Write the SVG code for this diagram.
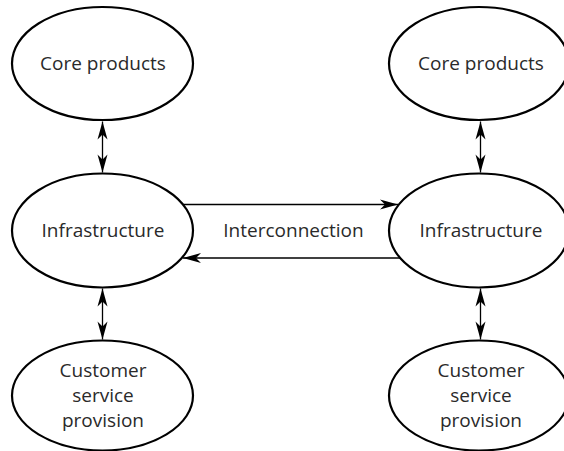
<svg xmlns="http://www.w3.org/2000/svg" width="564" height="451" viewBox="0 0 564 451">
  <defs>
    <style>
      .node ellipse { fill: #ffffff; stroke: #000000; stroke-width: 2.2; }
      .label { font-family: "Open Sans", "Liberation Sans", sans-serif; font-size: 19px; fill: #2a2a2a; text-anchor: middle; }
      .conn line { stroke: #000000; stroke-width: 1.3; fill: none; }
    </style>
    <marker id="arrow" markerUnits="userSpaceOnUse" markerWidth="20" markerHeight="12" viewBox="-19 -6 20 12" refX="0" refY="0" orient="auto-start-reverse" overflow="visible">
      <path d="M0,0 L-18,-5 L-13,0 L-18,5 Z" fill="#000000"/>
    </marker>
  </defs>
  <rect width="564" height="451" fill="#ffffff"/>

  <g id="connectors" class="conn">
    <line x1="102.5" y1="121.5" x2="102.5" y2="172.5" marker-start="url(#arrow)" marker-end="url(#arrow)"/>
    <line x1="102.5" y1="288.5" x2="102.5" y2="339.5" marker-start="url(#arrow)" marker-end="url(#arrow)"/>
    <line x1="480.5" y1="121.5" x2="480.5" y2="172.5" marker-start="url(#arrow)" marker-end="url(#arrow)"/>
    <line x1="480.5" y1="288.5" x2="480.5" y2="339.5" marker-start="url(#arrow)" marker-end="url(#arrow)"/>
    <line x1="183" y1="204.5" x2="398" y2="204.5" marker-end="url(#arrow)"/>
    <line x1="400" y1="258" x2="183" y2="258" marker-end="url(#arrow)"/>
  </g>
  <text class="label" x="293.5" y="237">Interconnection</text>

  <g id="core-left" class="node">
    <ellipse cx="102.5" cy="63.5" rx="90.5" ry="56.5"/>
    <text class="label" x="103" y="70">Core products</text>
  </g>
  <g id="infra-left" class="node">
    <ellipse cx="102.5" cy="230.5" rx="90.5" ry="57"/>
    <text class="label" x="103" y="237">Infrastructure</text>
  </g>
  <g id="customer-left" class="node">
    <ellipse cx="102.5" cy="395.5" rx="90.5" ry="55"/>
    <text class="label" x="103" y="377">Customer</text>
    <text class="label" x="103" y="402">service</text>
    <text class="label" x="103" y="427">provision</text>
  </g>

  <g id="core-right" class="node">
    <ellipse cx="479" cy="63.5" rx="90" ry="56.5"/>
    <text class="label" x="481" y="70">Core products</text>
  </g>
  <g id="infra-right" class="node">
    <ellipse cx="479" cy="230.5" rx="90" ry="57"/>
    <text class="label" x="481" y="237">Infrastructure</text>
  </g>
  <g id="customer-right" class="node">
    <ellipse cx="479" cy="395.5" rx="90" ry="55"/>
    <text class="label" x="481" y="377">Customer</text>
    <text class="label" x="481" y="402">service</text>
    <text class="label" x="481" y="427">provision</text>
  </g>
</svg>
